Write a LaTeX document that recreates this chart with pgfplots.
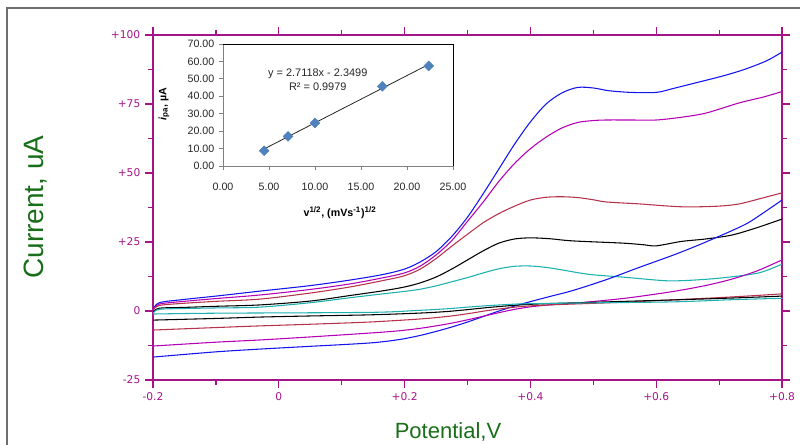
\documentclass[border=0pt]{standalone}
\usepackage{pgfplots}
\pgfplotsset{compat=1.18}
\usepackage{fontspec}
\setmainfont{Liberation Sans}
\newfontfamily\dejavu{DejaVu Sans}
\definecolor{mag}{RGB}{165,20,135}
\definecolor{cvblue}{RGB}{20,20,240}
\definecolor{cvmag}{RGB}{180,0,180}
\definecolor{cvred}{RGB}{180,50,75}
\definecolor{cvcyan}{RGB}{30,175,175}
\definecolor{lblgreen}{RGB}{25,110,25}
\definecolor{markc}{RGB}{79,129,189}
\definecolor{framegray}{RGB}{110,110,110}
\begin{document}
\begin{tikzpicture}
\useasboundingbox (0,0) rectangle (600pt,333.75pt);
\draw[framegray, line width=1.5pt] (5.25pt,0pt) -- (5.25pt,327.75pt) -- (600pt,327.75pt);
\begin{axis}[at={(114.75pt,48.75pt)}, anchor=south west, scale only axis,
  width=471.75pt, height=258.75pt,
  xmin=-0.2, xmax=0.8, ymin=-25, ymax=100,
  xtick={-0.2,0,0.2,0.4,0.6,0.8}, xticklabels={-0.2,0,+0.2,+0.4,+0.6,+0.8},
  ytick={-25,0,25,50,75,100}, yticklabels={-25,0,+25,+50,+75,+100},
  minor x tick num=1, minor y tick num=1,
  tick align=outside, major tick length=6pt, minor tick length=4pt,
  axis line style={mag, line width=1.1pt},
  tick style={mag, line width=0.9pt},
  ticklabel style={font=\dejavu\fontsize{8}{9}\selectfont, text=mag},
]
% forward (anodic) scans
\addplot[cvblue, line width=0.8pt, smooth, tension=0.5] coordinates {
(-0.2,0.5) (-0.19,3.0) (-0.15,4.2) (-0.1,5.4) (-0.03,7.2) (0.05,9.2) (0.113,11.2) (0.165,13.2) (0.2,15.2) (0.225,17.8) (0.25,21.5) (0.275,27) (0.3,34) (0.325,42.5) (0.35,51.5) (0.375,60.5) (0.4,68.5) (0.425,75) (0.45,79) (0.475,81) (0.5,80.8) (0.525,79.8) (0.56,79.2) (0.6,79.2) (0.625,80.5) (0.66,82.5) (0.705,85.1) (0.74,87.5) (0.775,90.6) (0.8,93.8)};
\addplot[cvmag, line width=0.8pt, smooth, tension=0.5] coordinates {
(-0.2,0.3) (-0.19,2.5) (-0.15,3.5) (-0.1,4.5) (-0.03,5.8) (0.05,7.8) (0.113,9.8) (0.165,12) (0.2,13.8) (0.225,16.3) (0.25,20.3) (0.275,25.5) (0.3,32.5) (0.325,39.5) (0.35,47) (0.375,53.5) (0.4,58.8) (0.425,63) (0.45,66.3) (0.475,68.3) (0.5,69) (0.521,69.2) (0.56,69.2) (0.6,69.2) (0.64,70.2) (0.679,71.7) (0.732,75.4) (0.77,77.5) (0.8,79.5)};
\addplot[cvred, line width=0.8pt, smooth, tension=0.5] coordinates {
(-0.2,0.2) (-0.19,2.0) (-0.15,2.8) (-0.1,3.5) (-0.03,4.3) (0.05,6.5) (0.113,8.7) (0.165,11) (0.2,12.8) (0.225,15.2) (0.25,19) (0.275,23.5) (0.3,27.8) (0.325,32) (0.35,35.3) (0.375,38) (0.4,40.2) (0.425,41.2) (0.45,41.4) (0.475,41.1) (0.5,40.3) (0.521,39.5) (0.573,38.8) (0.62,38) (0.652,37.7) (0.7,38) (0.732,38.8) (0.77,41) (0.8,42.8)};
\addplot[black, line width=0.8pt, smooth, tension=0.5] coordinates {
(-0.2,-0.5) (-0.19,1.0) (-0.15,1.3) (-0.1,1.7) (-0.03,2.2) (0.05,3.6) (0.113,5.6) (0.165,7.3) (0.2,8.7) (0.225,10.2) (0.25,12.3) (0.275,15.2) (0.3,18.5) (0.325,21.8) (0.35,24.6) (0.375,26.1) (0.4,26.5) (0.43,26.2) (0.467,25.4) (0.546,24.6) (0.58,24.0) (0.6,23.6) (0.64,25.2) (0.679,26.1) (0.72,27.5) (0.759,30.1) (0.8,33.3)};
\addplot[cvcyan, line width=0.8pt, smooth, tension=0.5] coordinates {
(-0.2,-0.8) (-0.19,0.6) (-0.15,0.9) (-0.1,1.1) (-0.03,1.4) (0.05,3.0) (0.113,4.8) (0.165,6.2) (0.2,7.1) (0.225,7.9) (0.25,9.1) (0.275,10.6) (0.3,12.1) (0.325,13.8) (0.35,15.3) (0.375,16.2) (0.4,16.3) (0.425,15.8) (0.45,14.9) (0.475,13.9) (0.5,13.1) (0.546,12.3) (0.6,11.2) (0.625,10.9) (0.66,11.2) (0.705,12.0) (0.763,13.8) (0.8,17.0)};
% reverse (cathodic) scans
\addplot[cvblue, line width=0.8pt, smooth, tension=0.5] coordinates {
(-0.2,-16.7) (-0.1,-14.8) (-0.03,-13.8) (0.05,-12.8) (0.144,-11.6) (0.19,-10.4) (0.224,-8.9) (0.25,-7.4) (0.275,-5.8) (0.3,-4.0) (0.325,-2.0) (0.35,0.0) (0.375,1.8) (0.4,3.4) (0.43,5.2) (0.467,7.4) (0.52,11.3) (0.573,15.8) (0.63,20.5) (0.679,25.0) (0.74,31.2) (0.77,35.5) (0.8,40.2)};
\addplot[cvmag, line width=0.8pt, smooth, tension=0.5] coordinates {
(-0.2,-12.7) (-0.1,-11.3) (-0.03,-10.5) (0.05,-9.4) (0.144,-8.0) (0.19,-7.2) (0.224,-6.3) (0.25,-5.4) (0.275,-4.4) (0.3,-3.2) (0.325,-1.9) (0.35,-0.6) (0.375,0.6) (0.4,1.5) (0.43,2.2) (0.478,3.0) (0.55,4.6) (0.625,7.0) (0.68,9.3) (0.721,11.6) (0.76,14.5) (0.8,18.5)};
\addplot[cvred, line width=0.8pt, smooth, tension=0.5] coordinates {
(-0.2,-6.9) (-0.1,-6.0) (-0.03,-5.4) (0.05,-4.8) (0.144,-4.0) (0.224,-2.9) (0.267,-2.0) (0.3,-1.0) (0.33,0.1) (0.36,1.0) (0.39,1.7) (0.43,2.2) (0.478,2.6) (0.55,3.2) (0.625,4.0) (0.721,5.1) (0.8,6.2)};
\addplot[black, line width=0.8pt, smooth, tension=0.5] coordinates {
(-0.2,-3.3) (-0.1,-2.7) (-0.03,-2.2) (0.05,-1.8) (0.144,-1.4) (0.22,-0.8) (0.267,-0.2) (0.3,0.5) (0.33,1.2) (0.36,1.8) (0.39,2.3) (0.43,2.7) (0.478,3.0) (0.55,3.5) (0.625,4.0) (0.721,4.7) (0.8,5.4)};
\addplot[cvcyan, line width=0.8pt, smooth, tension=0.5] coordinates {
(-0.2,-1.1) (-0.1,-0.8) (0.144,-0.5) (0.22,0.2) (0.267,0.8) (0.3,1.4) (0.33,1.9) (0.36,2.3) (0.39,2.6) (0.478,2.9) (0.625,3.3) (0.721,4.1) (0.8,4.6)};
\end{axis}
% inset
\begin{axis}[at={(167.25pt,209.25pt)}, anchor=south west, scale only axis,
  width=172.5pt, height=91.5pt, clip=false,
  xmin=0, xmax=25, ymin=0, ymax=70,
  xtick={0,5,...,25}, ytick={0,10,...,70},
  axis x line*=bottom, axis y line*=left,
  axis line style={black!50, line width=0.6pt, -},
  tick align=outside, major tick length=3pt,
  tick style={black!50, line width=0.6pt},
  ticklabel style={font=\fontsize{8}{9}\selectfont, text=black!85},
  xticklabel style={yshift=-6pt},
  /pgf/number format/.cd, fixed, fixed zerofill, precision=2, assume math mode=true,
]
\addplot[only marks, mark=square*, mark size=2.6pt, mark options={rotate=45, fill=markc, draw=markc}] coordinates {
(4.47,8.8) (7.07,17.0) (10.0,24.7) (17.32,45.7) (22.36,57.4)};
\addplot[black!85, line width=0.6pt] coordinates {(4.47,9.77) (22.36,58.29)};
\node[font=\fontsize{8.2}{10.5}\selectfont, align=center, text=black!85] at (axis cs:10.3,49.3) {y = 2.7118x - 2.3499\\R² = 0.9979};
\draw[black, line width=0.6pt] (rel axis cs:0,1) -- (rel axis cs:1,1) -- (rel axis cs:1,0);
\end{axis}
\node[rotate=90, text=lblgreen, font=\fontsize{21}{24}\selectfont] at (27pt,178.5pt) {Current, uA};
\node[text=lblgreen, font=\fontsize{16.5}{19}\selectfont] at (336pt,9.75pt) {Potential,V};
\node[rotate=90, font=\bfseries\fontsize{8}{9}\selectfont] at (123pt,255.75pt) {\textit{i}\textsubscript{pa}, µA};
\node[font=\bfseries\fontsize{8}{9}\selectfont] at (255pt,174pt) {v\textsuperscript{1/2}, (mVs\textsuperscript{-1})\textsuperscript{1/2}};
\end{tikzpicture}
\end{document}
